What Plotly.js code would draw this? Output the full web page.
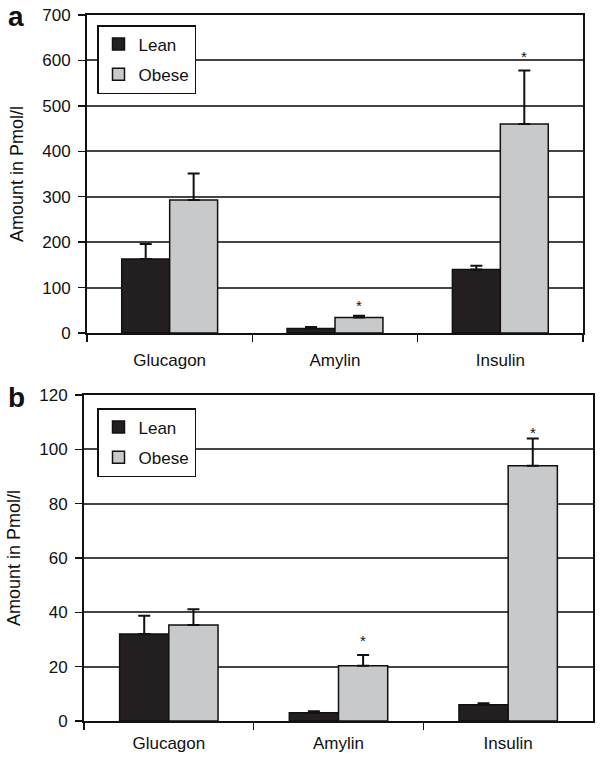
<!DOCTYPE html>
<html>
<head>
<meta charset="utf-8">
<script src="https://cdn.plot.ly/plotly-3.0.1.min.js"></script>
<style>html,body{margin:0;padding:0;background:#fff;}#chart{width:603px;height:763px;}</style>
</head>
<body>
<div id="chart"></div>
<script>
// ---- data ----
const categories = ['Glucagon', 'Amylin', 'Insulin'];
const seriesNames = ['Lean', 'Obese'];
// Panel a
const leanA = [163, 10, 140];
const leanAErr = [33, 3, 8];
const obeseA = [293, 34, 460];
const obeseAErr = [58, 4, 118];
const starsA = [false, true, true];
// Panel b
const leanB = [32, 3, 6];
const leanBErr = [6.7, 0.6, 0.5];
const obeseB = [35.3, 20.3, 94];
const obeseBErr = [5.8, 4, 10];
const starsB = [false, true, true];
const yTicksA = [0, 100, 200, 300, 400, 500, 600, 700];
const yTicksB = [0, 20, 40, 60, 80, 100, 120];
const yTitle = 'Amount in Pmol/l';
const panelLabels = ['a', 'b'];

// ---- styles ----
const FONT = 'Liberation Sans, Arial, Helvetica, sans-serif';
const leanColor = '#231f20';
const obeseColor = '#c8c9cb';
const BARGAP = 0.42;
const W = 603, H = 763;

function barTrace(name, y, err, color, xa, ya, legend, show) {
  return {
    type: 'bar', name: name, x: categories, y: y,
    xaxis: xa, yaxis: ya, legend: legend, showlegend: show,
    legendgroup: name + legend,
    marker: {color: color, line: {color: '#111', width: 1.5}},
    error_y: {type: 'data', symmetric: false, array: err,
              arrayminus: err.map(() => 0), color: '#111', thickness: 2, width: 6},
    hoverinfo: 'skip'
  };
}

const data = [
  barTrace(seriesNames[0], leanA, leanAErr, leanColor, 'x', 'y', 'legend', true),
  barTrace(seriesNames[1], obeseA, obeseAErr, obeseColor, 'x', 'y', 'legend', true),
  barTrace(seriesNames[0], leanB, leanBErr, leanColor, 'x2', 'y2', 'legend2', true),
  barTrace(seriesNames[1], obeseB, obeseBErr, obeseColor, 'x2', 'y2', 'legend2', true)
];

function xAxis(domain, anchor, standoff) {
  return {
    domain: domain, anchor: anchor, type: 'category',
    range: [-0.5, categories.length - 0.5],
    tickson: 'boundaries', ticks: 'outside', ticklen: 7, tickwidth: 1.5, tickcolor: '#111',
    showline: true, linecolor: '#111', linewidth: 2, mirror: true,
    showgrid: false, zeroline: false,
    ticklabelstandoff: standoff,
    tickfont: {family: FONT, size: 17, color: '#111'}
  };
}
function yAxis(domain, anchor, ticks, standoff) {
  return {
    domain: domain, anchor: anchor,
    range: [ticks[0], ticks[ticks.length - 1]],
    tickmode: 'array', tickvals: ticks, ticktext: ticks.map(String),
    ticks: 'outside', ticklen: 7, tickwidth: 1.5, tickcolor: '#111',
    showline: true, linecolor: '#111', linewidth: 2, mirror: true,
    showgrid: true, gridcolor: '#444', gridwidth: 2, zeroline: false,
    ticklabelstandoff: 4,
    tickfont: {family: FONT, size: 17, color: '#111'},
    title: {text: yTitle, standoff: standoff, font: {family: FONT, size: 18, color: '#111'}}
  };
}

const annotations = [];
const offset = (1 - BARGAP) / 4;
function addStars(stars, vals, errs, xref, yref, shift) {
  stars.forEach((s, i) => {
    if (!s) return;
    annotations.push({
      x: i + offset, y: vals[i] + errs[i], xref: xref, yref: yref,
      text: '*', showarrow: false, yanchor: 'bottom', yshift: shift[i],
      font: {family: FONT, size: 15, color: '#111'}
    });
  });
}
addStars(starsA, obeseA, obeseAErr, 'x', 'y', [0, 0, 3]);
addStars(starsB, obeseB, obeseBErr, 'x2', 'y2', [0, 4, -5]);
annotations.push({x: 16 / W, y: 1 - 17 / H, xref: 'paper', yref: 'paper', text: '<b>' + panelLabels[0] + '</b>',
  showarrow: false, xanchor: 'center', yanchor: 'middle', font: {family: FONT, size: 28, color: '#111'}});
annotations.push({x: 16 / W, y: 1 - 397 / H, xref: 'paper', yref: 'paper', text: '<b>' + panelLabels[1] + '</b>',
  showarrow: false, xanchor: 'center', yanchor: 'middle', font: {family: FONT, size: 28, color: '#111'}});

function legendBox(top) {
  return {
    x: 97 / W, y: 1 - top / H, xanchor: 'left', yanchor: 'top',
    bgcolor: '#fff', bordercolor: '#111', borderwidth: 1.5,
    font: {family: FONT, size: 17, color: '#111'},
    traceorder: 'grouped', tracegroupgap: 5
  };
}

const layout = {
  width: W, height: H,
  margin: {l: 0, r: 0, t: 0, b: 0},
  paper_bgcolor: '#fff', plot_bgcolor: '#fff',
  barmode: 'group', bargap: BARGAP, bargroupgap: 0,
  xaxis: xAxis([87 / W, 583 / W], 'y', 11),
  yaxis: yAxis([1 - 333 / H, 1 - 15 / H], 'x', yTicksA, 14),
  xaxis2: xAxis([84 / W, 593 / W], 'y2', 6),
  yaxis2: yAxis([1 - 721 / H, 1 - 395 / H], 'x2', yTicksB, 14),
  legend: legendBox(25),
  legend2: legendBox(408),
  annotations: annotations,
  showlegend: true
};

Plotly.newPlot('chart', data, layout, {staticPlot: true, displayModeBar: false});
</script>
</body>
</html>
